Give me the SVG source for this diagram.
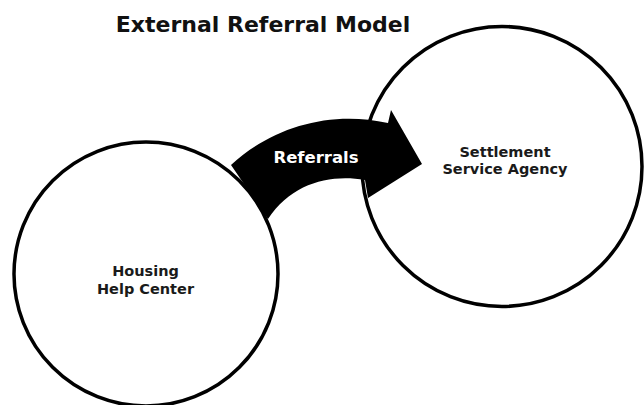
<svg xmlns="http://www.w3.org/2000/svg" width="644" height="405" viewBox="0 0 644 405">
  <style>
    .circle { fill: #ffffff; stroke: #000000; stroke-width: 3.5; }
    .label { font-family: "DejaVu Sans", Verdana, sans-serif; font-weight: bold; font-size: 14.5px; fill: #1a1a1a; text-anchor: middle; }
    .title { font-family: "DejaVu Sans", Verdana, sans-serif; font-weight: bold; font-size: 22px; fill: #111111; text-anchor: middle; }
    .arrow-label { font-family: "DejaVu Sans", Verdana, sans-serif; font-weight: bold; font-size: 16.5px; fill: #ffffff; text-anchor: middle; }
  </style>
  <rect width="644" height="405" fill="#ffffff"/>
  <text class="title" x="263" y="31.5">External Referral Model</text>
  <g id="settlement-service-agency">
    <circle class="circle" cx="502" cy="166.5" r="140"/>
    <text class="label" x="505" y="157">Settlement</text>
    <text class="label" x="505" y="174">Service Agency</text>
  </g>
  <g id="housing-help-center">
    <circle class="circle" cx="146" cy="274" r="132"/>
    <text class="label" x="145.5" y="276">Housing</text>
    <text class="label" x="145.5" y="294">Help Center</text>
  </g>
  <g id="connectors">
    <path id="referrals-arrow" fill="#000000" d="M 231,165 C 272,127 330,110 388,123 L 391,110 L 422,164 L 368,198 L 365,180 C 330,174 292,183 268,219 Z"/>
    <text class="arrow-label" x="316" y="163">Referrals</text>
  </g>
</svg>
